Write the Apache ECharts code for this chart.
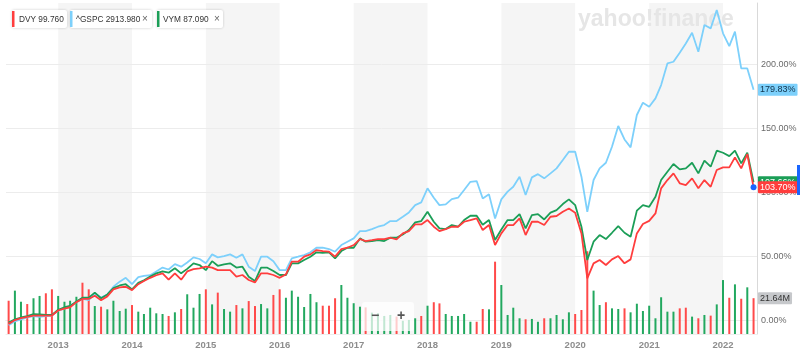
<!DOCTYPE html>
<html><head><meta charset="utf-8">
<script src="https://cdn.jsdelivr.net/npm/echarts@6/dist/echarts.min.js"></script>
<style>html,body{margin:0;padding:0;background:#fff}#c{width:800px;height:362px}</style>
</head><body><div id="c"></div>
<script>
// Monthly points, May 2012 .. June 2022
const firstYear = 2012, firstMonth = 5, pointCount = 122;
const months = [];
for (let i = 0; i < pointCount; i++) {
  const m = firstMonth - 1 + i;
  months.push(new Date(firstYear + Math.floor(m / 12), m % 12, 1).getTime());
}
const yearLabels = [2013, 2014, 2015, 2016, 2017, 2018, 2019, 2020, 2021, 2022];
const shadedYears = [2013, 2015, 2017, 2019, 2021];
const pctTicks = [0, 50, 100, 150, 200];

// % change series
const gspc = [
  -4, -1, 0.5, 2, 3, 2.5, 3, 3.5, 7.5, 9,
  11, 14, 16.5, 15.5, 21, 17.5, 20, 26, 30, 33,
  28, 33.5, 34.5, 35, 38, 41, 39.5, 43.7, 41.7, 45,
  49, 47.7, 44.3, 51.3, 49, 50, 51.3, 48.7, 51.3, 41.7,
  38.3, 49.5, 49.5, 46, 39, 39, 48.2, 49.5, 50.8, 52.9,
  56.5, 56.5, 55.5, 53.4, 58.6, 61.2, 63.8, 69.5, 69.5, 71.1,
  72.9, 74.2, 77.3, 77.3, 80.7, 84.1, 89.8, 91.9, 102.9, 95.6,
  89.8, 90.4, 94.5, 95.6, 101.6, 108, 108.6, 95, 98.2, 79.4,
  94.3, 100.3, 104.1, 112, 97.7, 111.5, 114, 110.7, 114.6, 118.5,
  125, 131.5, 131.5, 112, 84.6, 109.4, 118.5, 122.9, 135.4, 151.6,
  141.1, 134.9, 160.2, 169.8, 166.7, 173.2, 183.6, 200.5, 201.8, 208.9,
  216.1, 224.5, 209.6, 230.5, 227.9, 242.2, 224, 214, 225.3, 196.6,
  196.6, 179.83
];
const vym = [
  -2, 0.5, 2, 3, 4.7, 4.5, 4, 4, 8, 10,
  11, 14.5, 17.5, 17.5, 21.4, 17, 20, 25, 27, 28,
  24, 29, 31, 34, 36.5, 38, 37, 40.5, 36.5, 40,
  44.3, 43, 39, 46, 42.4, 43.5, 44.3, 41, 41.7, 33.9,
  30.5, 40.9, 40.9, 38.3, 35.2, 35.2, 44.3, 44.3, 46.9, 49.5,
  52.9, 52.5, 52.9, 48.2, 53.9, 56.5, 56.5, 63.8, 61.2, 61.7,
  62.5, 61.7, 64.3, 64.3, 66.9, 70.3, 76.3, 77.3, 84.6, 76.8,
  71.6, 71.1, 74.2, 72.9, 78.1, 81.5, 81.5, 74.5, 78.1, 62.5,
  70.8, 78.1, 78.1, 82.8, 71.6, 82, 82.8, 78.6, 83.9, 85.9,
  90.6, 94.3, 89.8, 72.9, 46.9, 61.2, 66.4, 63.3, 68.2, 73.4,
  68.2, 65.1, 85.5, 89.8, 88.5, 96.3, 109.4, 115.9, 121.9, 117.7,
  118.5, 122.9, 114.6, 124.5, 119.8, 132.3, 130.7, 128.1, 132.3, 122.4,
  130.7, 107.66
];
const dvy = [
  -3, 0, 1.5, 2.5, 3.5, 3.5, 3.5, 3.5, 7.5, 9,
  10, 14, 16.5, 16.5, 19, 15.5, 18.5, 24, 25.5, 26,
  23.4, 28, 30.5, 33, 35, 36.5, 31.5, 36.5, 31.5, 38,
  39.8, 40.4, 41.7, 40.9, 39, 39, 39, 33.9, 35.2, 31.3,
  29.4, 36.5, 36.5, 35.2, 33, 35.7, 45.6, 45.6, 49.5, 51.3,
  54.7, 53.9, 53.4, 49.5, 55.5, 56.5, 58.6, 63.3, 61.7, 62.5,
  63.3, 63.3, 64.3, 63, 67.7, 69.5, 74.7, 74.7, 78.1, 72.9,
  69.5, 71.1, 72.9, 72.9, 76.8, 78.1, 79.4, 70.3, 74.2, 58.6,
  67.7, 74.2, 74.2, 79.4, 66.4, 76.8, 76.8, 74.2, 80.7, 81.3,
  84.6, 87.2, 83.9, 67.7, 32.6, 44.3, 46.9, 43, 47.4, 50,
  44.3, 47.4, 67.7, 75, 77.5, 83.3, 102.9, 109.4, 114.6, 106.8,
  105.5, 110.7, 102.9, 109.4, 104.1, 117.2, 119.3, 119.3, 127.1, 118.5,
  129.7, 103.70
];
// DVY monthly volume (millions) and direction (1 up / -1 down)
const volume = [
  20.1, 26.2, 19.5, 18.1, 21.6, 23.0, 24.6, 27.0, 23.0, 19.5,
  20.1, 22.5, 31.0, 27.0, 16.9, 16.5, 14.9, 20.1, 13.9, 15.3,
  17.5, 13.5, 12.1, 15.9, 12.5, 12.1, 10.9, 13.1, 15.1, 24.0,
  15.9, 24.2, 27.0, 17.9, 25.0, 15.1, 13.5, 17.5, 15.5, 19.9,
  16.9, 18.1, 15.5, 23.6, 27.0, 21.9, 26.2, 22.5, 16.3, 24.2,
  19.2, 17.1, 17.1, 21.6, 29.6, 21.9, 18.6, 16.5, 16.1, 12.9,
  12.5, 10.9, 11.5, 10.5, 8.0, 8.5, 9.5, 10.9, 17.1, 19.2,
  18.5, 12.1, 10.9, 10.9, 12.1, 7.4, 7.4, 15.1, 14.9, 43.7,
  29.6, 11.5, 15.9, 9.5, 8.9, 9.1, 7.4, 9.5, 9.5, 11.5,
  8.9, 13.1, 12.1, 14.5, 50, 26.2, 17.5, 19.2, 15.5, 15.1,
  15.5, 13.1, 18.3, 13.9, 17.1, 9.5, 22.2, 13.5, 13.5, 15.5,
  15.9, 10.5, 9.5, 11.5, 11.1, 17.9, 32.6, 21.9, 30.0, 21.3,
  28.2, 21.64
];
const volDir = [
  -1, 1, 1, -1, 1, 1, -1, -1, 1, 1,
  1, 1, -1, -1, 1, -1, 1, 1, 1, 1,
  -1, 1, 1, 1, 1, 1, -1, 1, -1, 1,
  1, 1, -1, 1, -1, 1, 1, -1, 1, -1,
  -1, 1, 1, -1, -1, 1, 1, 1, 1, 1,
  1, -1, -1, -1, 1, 1, 1, 1, -1, 1,
  1, 1, 1, -1, 1, 1, 1, -1, 1, -1,
  -1, 1, 1, 1, 1, 1, -1, -1, 1, -1,
  1, 1, 1, 1, -1, 1, 1, -1, 1, 1,
  1, 1, -1, -1, -1, 1, 1, -1, 1, 1,
  -1, 1, 1, 1, 1, 1, 1, 1, 1, -1,
  -1, 1, -1, 1, -1, 1, 1, -1, 1, -1,
  1, -1
];

const C_RED = '#ff3d3d', C_GREEN = '#1b9e57', C_CYAN = '#7dd0fb';
const BAR_RED = '#ff4a4a', BAR_GREEN = '#22a85f';
const FONT = '"Liberation Sans", Arial, sans-serif';

const chart = echarts.init(document.getElementById('c'), null, {renderer: 'canvas'});
const yearTs = yearLabels.map(y => new Date(y, 0, 1).getTime());
const bands = shadedYears.map(y => [{xAxis: new Date(y, 0, 1).getTime()}, {xAxis: new Date(y + 1, 0, 1).getTime()}]);
const xMin = new Date(2012, 3, 18).getTime(), xMax = new Date(2022, 5, 18).getTime();

function endLabel(val, bg, fg, text) {
  return {
    silent: true, symbol: 'none', animation: false, z: 6,
    lineStyle: {color: 'rgba(0,0,0,0)', width: 1},
    label: {show: true, position: 'end', distance: 1, formatter: text,
      backgroundColor: bg, color: fg, fontSize: 9, fontFamily: FONT, padding: [2, 2, 1, 2], borderRadius: 1},
    data: [{yAxis: val}]
  };
}

const lastIdx = pointCount - 1;
function lineData(arr) { return arr.map((v, i) => [months[i], v]); }
const dvyData = lineData(dvy);
dvyData[lastIdx] = {value: [months[lastIdx], dvy[lastIdx]], symbol: 'circle', symbolSize: 6,
  itemStyle: {color: '#1a66ff', borderWidth: 0}};

const option = {
  animation: false,
  grid: {left: 6, right: 43, top: 3, bottom: 28},
  xAxis: [{
    type: 'value', min: xMin, max: xMax,
    axisLine: {show: true, lineStyle: {color: '#d9d9d9'}},
    axisTick: {show: true, customValues: yearTs, length: 3, lineStyle: {color: '#cfcfcf'}},
    axisLabel: {customValues: yearTs, formatter: v => String(new Date(v).getFullYear()),
      color: '#8d8d8d', fontSize: 9.5, fontWeight: 'bold', fontFamily: FONT, margin: 6},
    splitLine: {show: false}
  }, {
    type: 'value', min: xMin, max: xMax, position: 'top',
    axisLine: {show: true, lineStyle: {color: '#eeeeee'}},
    axisTick: {show: false}, axisLabel: {show: false}, splitLine: {show: false}
  }],
  yAxis: [{
    type: 'value', position: 'right', min: -10.9, max: 247.7,
    axisLine: {show: true, lineStyle: {color: '#d9d9d9'}},
    axisTick: {show: false},
    splitLine: {show: false},
    axisLabel: {customValues: pctTicks, formatter: v => v.toFixed(2) + '%',
      color: '#6b6b6b', fontSize: 9, fontFamily: FONT, margin: 4}
  }, {
    type: 'value', min: 0, max: 200, show: false
  }],
  graphic: [
    {type: 'text', x: 578, y: 8, z: 1,
      style: {text: 'yahoo!finance', font: 'bold 23px ' + FONT, fill: '#e6e6e6'}},
    // legend chips
    {type: 'rect', x: 12, y: 10, z: 20, shape: {width: 55, height: 18, r: 2},
      style: {fill: '#fff', shadowBlur: 3, shadowColor: 'rgba(0,0,0,0.2)'}},
    {type: 'rect', x: 12, y: 11, z: 21, shape: {width: 2.5, height: 16}, style: {fill: C_RED}},
    {type: 'text', x: 19, y: 19.5, z: 21, style: {text: 'DVY 99.760', font: '8.3px ' + FONT, fill: '#333',
      textVerticalAlign: 'middle', verticalAlign: 'middle'}},
    {type: 'rect', x: 70, y: 10, z: 20, shape: {width: 82, height: 18, r: 2},
      style: {fill: '#fff', shadowBlur: 3, shadowColor: 'rgba(0,0,0,0.2)'}},
    {type: 'rect', x: 70, y: 11, z: 21, shape: {width: 2.5, height: 16}, style: {fill: C_CYAN}},
    {type: 'text', x: 76, y: 19.5, z: 21, style: {text: '^GSPC 2913.980', font: '8.3px ' + FONT, fill: '#333',
      textVerticalAlign: 'middle', verticalAlign: 'middle'}},
    {type: 'text', x: 145, y: 19, z: 21, style: {text: '×', font: '10px ' + FONT, fill: '#666',
      textAlign: 'center', align: 'center', textVerticalAlign: 'middle', verticalAlign: 'middle'}},
    {type: 'rect', x: 157, y: 10, z: 20, shape: {width: 66, height: 18, r: 2},
      style: {fill: '#fff', shadowBlur: 3, shadowColor: 'rgba(0,0,0,0.2)'}},
    {type: 'rect', x: 157, y: 11, z: 21, shape: {width: 2.5, height: 16}, style: {fill: C_GREEN}},
    {type: 'text', x: 163, y: 19.5, z: 21, style: {text: 'VYM 87.090', font: '8.3px ' + FONT, fill: '#333',
      textVerticalAlign: 'middle', verticalAlign: 'middle'}},
    {type: 'text', x: 217, y: 19, z: 21, style: {text: '×', font: '10px ' + FONT, fill: '#666',
      textAlign: 'center', align: 'center', textVerticalAlign: 'middle', verticalAlign: 'middle'}},
    // zoom control
    {type: 'rect', x: 362, y: 302, z: 20, shape: {width: 52, height: 29, r: 3},
      style: {fill: 'rgba(255,255,255,0.72)'}},
    {type: 'text', x: 375, y: 316, z: 21, style: {text: '−', font: 'bold 14px ' + FONT, fill: '#555',
      textAlign: 'center', align: 'center', textVerticalAlign: 'middle', verticalAlign: 'middle'}},
    {type: 'text', x: 401, y: 316, z: 21, style: {text: '+', font: 'bold 14px ' + FONT, fill: '#555',
      textAlign: 'center', align: 'center', textVerticalAlign: 'middle', verticalAlign: 'middle'}},
    // blue side marker
    {type: 'rect', x: 797, y: 165, z: 21, shape: {width: 3, height: 30}, style: {fill: '#1a66ff'}}
  ],
  series: [
    {
      name: 'bg', type: 'line', data: [], z: 1, silent: true,
      markArea: {silent: true, z: 0, itemStyle: {color: 'rgba(0,0,0,0.04)'}, data: bands},
      markLine: {silent: true, z: 1, symbol: 'none', animation: false, label: {show: false},
        lineStyle: {color: '#ececec', width: 1, type: 'solid'},
        data: pctTicks.map(v => ({yAxis: v}))}
    },
    {
      name: 'Volume', type: 'bar', yAxisIndex: 1, z: 2, barWidth: 2,
      data: volume.map((v, i) => ({value: [months[i], v], itemStyle: {color: volDir[i] > 0 ? BAR_GREEN : BAR_RED}})),
      markLine: endLabel(volume[lastIdx], '#c6c8cb', '#333', '21.64M')
    },
    {
      name: '^GSPC', type: 'line', z: 3, symbol: 'none', data: lineData(gspc),
      lineStyle: {color: C_CYAN, width: 1.8}, itemStyle: {color: C_CYAN},
      markLine: endLabel(gspc[lastIdx], C_CYAN, '#10324a', gspc[lastIdx].toFixed(2) + '%')
    },
    {
      name: 'VYM', type: 'line', z: 3, symbol: 'none', data: lineData(vym),
      lineStyle: {color: C_GREEN, width: 1.8}, itemStyle: {color: C_GREEN},
      markLine: endLabel(vym[lastIdx], C_GREEN, '#fff', vym[lastIdx].toFixed(2) + '%')
    },
    {
      name: 'DVY', type: 'line', z: 3, symbol: 'none', showSymbol: true, data: dvyData,
      lineStyle: {color: C_RED, width: 1.8}, itemStyle: {color: C_RED},
      markLine: endLabel(dvy[lastIdx], C_RED, '#fff', dvy[lastIdx].toFixed(2) + '%')
    }
  ]
};
chart.setOption(option);
</script>
</body></html>
